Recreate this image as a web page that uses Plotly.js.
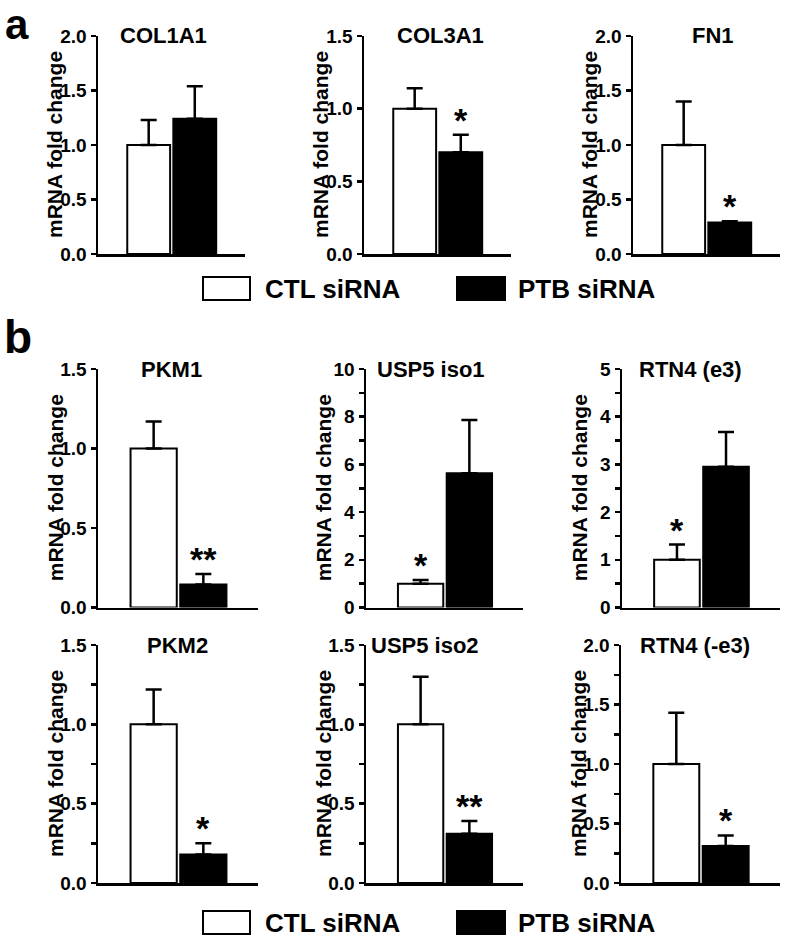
<!DOCTYPE html>
<html><head><meta charset="utf-8">
<script src="https://cdn.plot.ly/plotly-3.0.1.min.js"></script>
<style>html,body{margin:0;padding:0;background:#fff}#chart{width:787px;height:938px}</style>
</head><body><div id="chart"></div>
<script>
// ---- data ----
const genes   = ['COL1A1','COL3A1','FN1','PKM1','USP5 iso1','RTN4 (e3)','PKM2','USP5 iso2','RTN4 (-e3)'];
const groups  = ['CTL siRNA','PTB siRNA'];
const ctlMean = [1.00, 1.00, 1.00, 1.00, 1.00, 1.00, 1.00, 1.00, 1.00];
const ctlErr  = [0.23, 0.14, 0.40, 0.17, 0.15, 0.32, 0.22, 0.30, 0.43];
const ptbMean = [1.24, 0.70, 0.29, 0.145, 5.63, 2.95, 0.18, 0.31, 0.31];
const ptbErr  = [0.30, 0.12, 0.01, 0.065, 2.23, 0.73, 0.07, 0.08, 0.09];
const yMax    = [2.0, 1.5, 2.0, 1.5, 10, 5, 1.5, 1.5, 2.0];
const yStep   = [0.5, 0.5, 0.5, 0.5, 2, 1, 0.5, 0.5, 0.5];
const yMinor  = [0, 0, 0, 0, 1, 0.5, 0.25, 0.25, 0.25];
const sigText = ['', '*', '*', '**', '*', '*', '*', '**', '*'];
const sigBar  = [-1, 1, 1, 1, 0, 0, 1, 1, 1];   // 0 = CTL, 1 = PTB
const yTitle  = 'mRNA fold change';
const panelLetters = ['a','b'];

// ---- layout config (pixels) ----
const W = 787, H = 938;
const px = x => x / W, py = y => 1 - y / H;
const xDom = [[98,245],[364,511],[633,780],[98,258],[366,523],[622,780],[98,258],[366,523],[621,780]];
const yDomRows = [[36,254],[369,607.5],[645,883]];
const xRangeRows = [[-1.1,2.09],[-1.12,2.1],[-1.12,2.1]];
const titleX = [163,440,713,171,431,690,177,425,695];
const FONT = '"Liberation Sans", Arial, Helvetica, sans-serif';

const traces = [];
const layout = {
  width: W, height: H, margin: {l:0,r:0,t:0,b:0},
  paper_bgcolor: '#fff', plot_bgcolor: '#fff',
  showlegend: false, barmode: 'overlay',
  annotations: [], shapes: []
};

genes.forEach((g, i) => {
  const n = i === 0 ? '' : String(i + 1);
  const xa = 'x' + n, ya = 'y' + n;
  const row = Math.floor(i / 3);
  const yd = yDomRows[row];
  const means = [ctlMean[i], ptbMean[i]];
  const errs = [ctlErr[i], ptbErr[i]];
  [0, 1].forEach(k => {
    traces.push({
      type: 'bar', name: groups[k], x: [k], y: [means[k]], width: 0.93,
      xaxis: xa, yaxis: ya, hoverinfo: 'skip',
      marker: {color: k === 0 ? '#ffffff' : '#000000', line: {color: '#000', width: 2}},
      error_y: {type: 'data', symmetric: false, array: [errs[k]], arrayminus: [0],
                color: '#000', thickness: 2.5, width: 8}
    });
  });
  layout['xaxis' + n] = {
    domain: [px(xDom[i][0]), px(xDom[i][1])], range: xRangeRows[row], anchor: ya,
    showline: true, linecolor: '#000', linewidth: 2.5, ticks: '', showticklabels: false,
    showgrid: false, zeroline: false, fixedrange: true
  };
  const yax = {
    domain: [py(yd[1]), py(yd[0])], range: [0, yMax[i]], anchor: xa,
    tick0: 0, dtick: yStep[i], tickformat: yStep[i] < 1 ? '.1f' : 'd',
    showline: true, linecolor: '#000', linewidth: 2.5,
    ticks: 'outside', ticklen: 5, tickwidth: 2.5, tickcolor: '#000',
    tickfont: {family: FONT, size: 19, color: '#000', weight: 'bold'},
    showgrid: false, zeroline: false, fixedrange: true
  };
  if (yMinor[i]) yax.minor = {dtick: yMinor[i], tick0: 0, ticks: 'outside', ticklen: 5, tickwidth: 2.5, tickcolor: '#000', showgrid: false};
  layout['yaxis' + n] = yax;

  // panel title
  layout.annotations.push({
    text: g, xref: 'paper', yref: 'paper', x: px(titleX[i]), y: py(yd[0]),
    xanchor: 'center', yanchor: 'middle', showarrow: false,
    font: {family: FONT, size: 22, color: '#000', weight: 'bold'}
  });
  // y axis title
  layout.annotations.push({
    text: yTitle, xref: 'paper', yref: 'paper', x: px(xDom[i][0] - 43), y: py((yd[0] + yd[1]) / 2),
    xanchor: 'center', yanchor: 'middle', textangle: -90, showarrow: false,
    font: {family: FONT, size: 21, color: '#000', weight: 'bold'}
  });
  // significance
  if (sigText[i]) {
    const b = sigBar[i];
    layout.annotations.push({
      text: sigText[i], xref: xa, yref: ya, x: b, y: means[b] + errs[b],
      xanchor: 'center', yanchor: 'middle', yshift: 15, showarrow: false,
      font: {family: FONT, size: 34, color: '#000', weight: 'bold'}
    });
  }
});

// panel letters
layout.annotations.push({
  text: panelLetters[0], xref: 'paper', yref: 'paper', x: px(3), y: 1,
  xanchor: 'left', yanchor: 'top', yshift: 1, showarrow: false,
  font: {family: FONT, size: 42, color: '#000', weight: 'bold'}
});
layout.annotations.push({
  text: panelLetters[1], xref: 'paper', yref: 'paper', x: px(2), y: py(337),
  xanchor: 'left', yanchor: 'middle', showarrow: false,
  font: {family: FONT, size: 46, color: '#000', weight: 'bold'}
});

// legends
[288.5, 922.5].forEach(cy => {
  [[203, 250, 263], [457, 505, 516]].forEach((L, k) => {
    layout.shapes.push({
      type: 'rect', xref: 'paper', yref: 'paper',
      x0: px(L[0]), x1: px(L[1]), y0: py(cy + 11.5), y1: py(cy - 11.5),
      line: {color: '#000', width: 2}, fillcolor: k === 0 ? '#fff' : '#000'
    });
    layout.annotations.push({
      text: groups[k], xref: 'paper', yref: 'paper', x: px(L[2]), y: py(cy),
      xanchor: 'left', yanchor: 'middle', showarrow: false,
      font: {family: FONT, size: 26, color: '#000', weight: 'bold'}
    });
  });
});

Plotly.newPlot('chart', traces, layout, {staticPlot: true, displayModeBar: false});
</script>
</body></html>
